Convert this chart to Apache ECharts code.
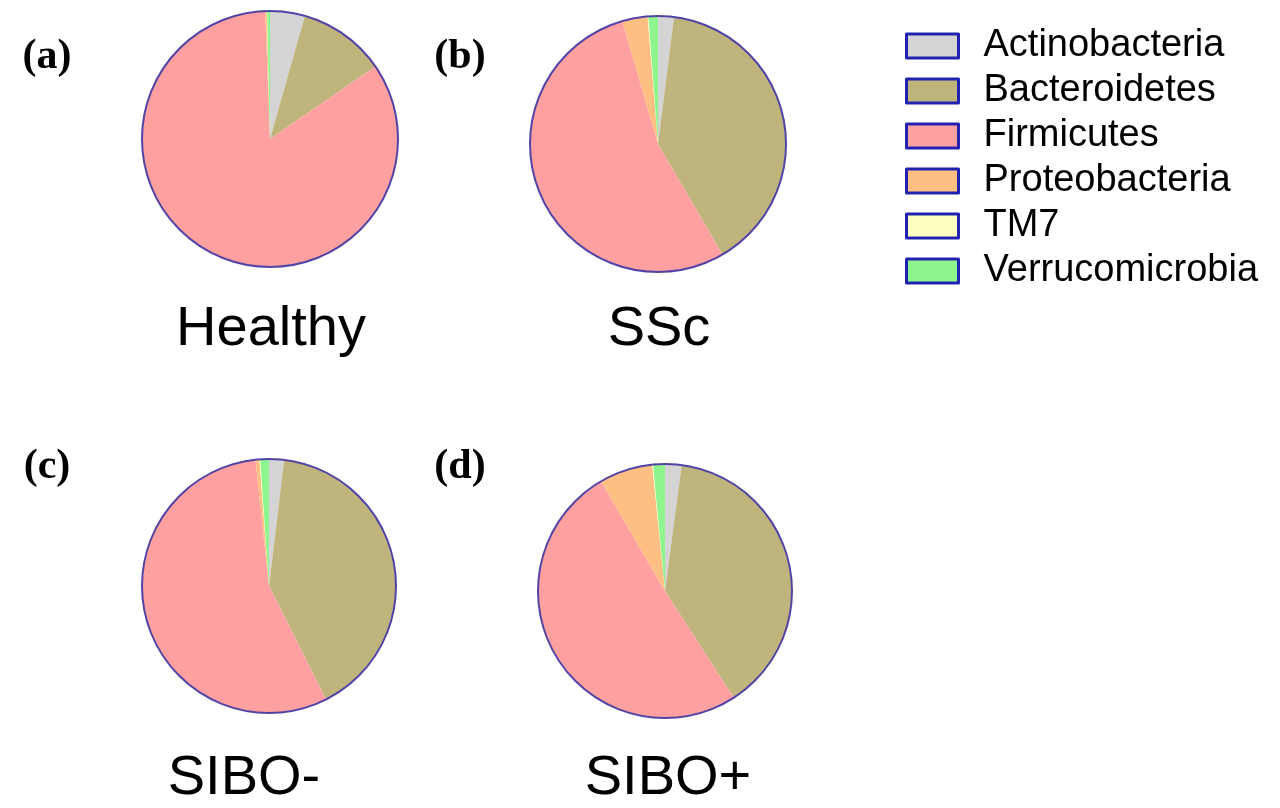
<!DOCTYPE html>
<html lang="en">

<head>
  <meta charset="UTF-8">
  <title>Phylum composition pies</title>
  <style>
    * {
      margin: 0;
      padding: 0;
      box-sizing: border-box;
    }

    body {
      background-color: #fff;
    }

    .chart {
      width: 1280px;
      height: 808px;
    }
  </style>
</head>

<body>
  <div id="chart" class="chart"></div>
  <script src="https://cdn.jsdelivr.net/npm/echarts@6/dist/echarts.min.js"></script>
  <script>
    // phyla in drawing order (clockwise from 12 o'clock)
    const phyla = ['Actinobacteria', 'Bacteroidetes', 'Firmicutes', 'Proteobacteria', 'TM7', 'Verrucomicrobia']
    const phylumColors = ['#d4d4d4', '#bfb47b', '#ffa0a0', '#ffbf82', '#ffffc2', '#8ef58e']

    // relative abundance (%)
    const healthy = [4.4, 11.0, 84.0, 0.2, 0.05, 0.35]
    const ssc = [2.0, 39.6, 53.9, 3.2, 0.1, 1.2]
    const siboNeg = [1.9, 40.7, 55.7, 0.5, 0.1, 1.1]
    const siboPos = [2.1, 38.8, 50.7, 6.8, 0.1, 1.5]

    const groups = ['Healthy', 'SSc', 'SIBO-', 'SIBO+']
    const panels = ['(a)', '(b)', '(c)', '(d)']

    const groupValues = [healthy, ssc, siboNeg, siboPos]
    // layout of each panel: pie centre, radius, caption and tag positions
    const layout = [
      { center: [270, 139], r: 128, caption: [271, 330], tag: [47, 57] },
      { center: [658, 144], r: 128, caption: [659, 330], tag: [460, 57] },
      { center: [269, 586], r: 127, caption: [244, 779], tag: [47, 467] },
      { center: [665, 591], r: 127, caption: [668, 779], tag: [460, 467] }
    ]

    const chart = echarts.init(document.querySelector('#chart'))

    const series = []
    const graphics = []
    groups.forEach(function (g, i) {
      const L = layout[i]
      series.push({
        name: g,
        type: 'pie',
        center: L.center,
        radius: [0, L.r],
        startAngle: 90,
        clockwise: true,
        label: { show: false },
        labelLine: { show: false },
        emphasis: { disabled: true },
        silent: true,
        animation: false,
        data: phyla.map(function (p, k) {
          return { name: p, value: groupValues[i][k], itemStyle: { color: phylumColors[k] } }
        })
      })
      // outer rim of the pie
      series.push({
        name: g + ' rim',
        type: 'pie',
        center: L.center,
        radius: [0, L.r],
        label: { show: false },
        labelLine: { show: false },
        silent: true,
        animation: false,
        z: 3,
        data: [{ name: 'rim', value: 1, itemStyle: { color: 'rgba(0,0,0,0)', borderColor: '#5244a6', borderWidth: 2 } }]
      })
      graphics.push({
        type: 'text',
        x: L.caption[0],
        y: L.caption[1],
        style: {
          text: g,
          fill: '#000',
          font: '56px "Liberation Sans", Arial, sans-serif',
          align: 'center', textAlign: 'center',
          verticalAlign: 'middle', textVerticalAlign: 'middle'
        }
      })
      graphics.push({
        type: 'text',
        x: L.tag[0],
        y: L.tag[1],
        style: {
          text: panels[i],
          fill: '#000',
          font: 'bold 42px "Liberation Serif", "Times New Roman", serif',
          align: 'center', textAlign: 'center',
          verticalAlign: 'middle', textVerticalAlign: 'middle'
        }
      })
    })

    const options = {
      animation: false,
      legend: {
        orient: 'vertical',
        left: 900,
        top: 22,
        data: phyla,
        icon: 'rect',
        itemWidth: 52,
        itemHeight: 24,
        itemGap: 7,
        selectedMode: false,
        itemStyle: {
          borderColor: '#2222b0',
          borderWidth: 3
        },
        textStyle: {
          color: '#000',
          fontSize: 38,
          lineHeight: 38,
          fontFamily: '"Liberation Sans", Arial, sans-serif',
          padding: [0, 0, 0, 20]
        }
      },
      series: series,
      graphic: graphics
    }

    chart.setOption(options)
  </script>
</body>

</html>
